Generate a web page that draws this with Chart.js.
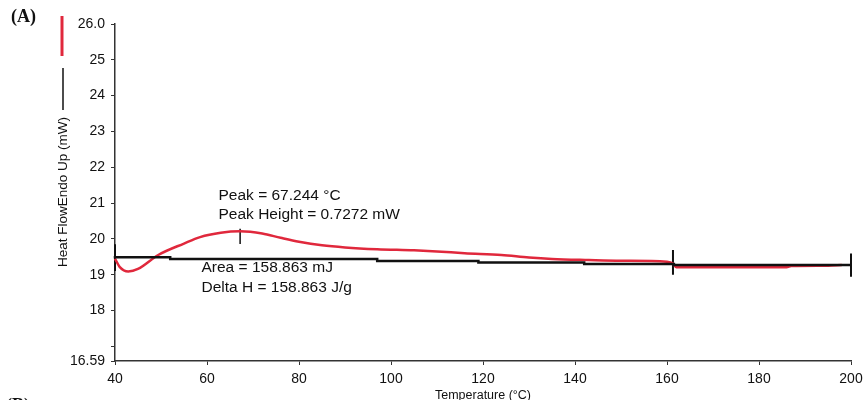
<!DOCTYPE html>
<html>
<head>
  <meta charset="UTF-8">
  <title>DSC curve (A)</title>
  <script src="https://cdn.jsdelivr.net/npm/chart.js"></script>
  <style>
    body { margin: 0; background: #ffffff; }
    .chart-box { position: relative; width: 865px; height: 400px; }
  </style>
</head>
<body>
  <div class="chart-box">
    <canvas id="dscChart"></canvas>
  </div>

  <script>
    // Data
    const redTemp = [40, 41, 42.9, 45, 49.4, 55, 58.5, 63, 67.2, 72, 76, 80, 85, 90, 97, 105, 110, 116, 124, 130, 135, 143, 150, 160, 161.3, 162, 186, 187, 195, 198];
    const redHeat = [19.45, 19.22, 19.09, 19.16, 19.55, 19.87, 20.05, 20.17, 20.21, 20.15, 20.03, 19.92, 19.82, 19.76, 19.71, 19.68, 19.65, 19.6, 19.55, 19.48, 19.44, 19.41, 19.39, 19.36, 19.31, 19.21, 19.21, 19.24, 19.25, 19.27];

    // baseline (drawn as steps like the instrument plot)
    const baseTemp = [40, 52, 97, 119, 142, 161.5, 187, 200];
    const baseHeat = [19.52, 19.49, 19.44, 19.38, 19.34, 19.3, 19.27, 19.27];

    // vertical limit / peak markers: [temp, top, bottom]
    const limitMarks = [[40, 19.85, 19.1], [161.3, 19.69, 19.0], [200, 19.59, 18.94]];
    const peakMark = [67.2, 20.28, 19.86];

    const xTicks = [40, 60, 80, 100, 120, 140, 160, 180, 200];
    const yTicks = [16.59, 17, 18, 19, 20, 21, 22, 23, 24, 25, 26];
    const yTickLabels = ['16.59', '', '18', '19', '20', '21', '22', '23', '24', '25', '26.0'];

    const peakText = ['Peak = 67.244 °C', 'Peak Height = 0.7272 mW'];
    const areaText = ['Area = 158.863 mJ', 'Delta H = 158.863 J/g'];

    const RED = '#e0283c';
    const INK = '#111111';

    function toPoints(xs, ys) {
      return xs.map((x, i) => ({ x: x, y: ys[i] }));
    }

    const markSets = limitMarks.map(m => ({
      data: [{ x: m[0], y: m[1] }, { x: m[0], y: m[2] }],
      borderColor: INK,
      borderWidth: 2,
      pointRadius: 0,
      clip: false
    }));

    // texts, legend strokes and axis titles drawn like the original software
    const extras = {
      id: 'extras',
      afterDraw(chart) {
        const c = chart.ctx;
        const xs = chart.scales.x;
        c.save();

        // legend strokes in the y-title column
        c.lineCap = 'butt';
        c.strokeStyle = RED; c.lineWidth = 3;
        c.beginPath(); c.moveTo(62, 16); c.lineTo(62, 56); c.stroke();
        c.strokeStyle = INK; c.lineWidth = 1.5;
        c.beginPath(); c.moveTo(63, 68); c.lineTo(63, 110); c.stroke();

        // y title
        c.fillStyle = INK;
        c.font = '13.5px "Liberation Sans", Arial, sans-serif';
        c.textAlign = 'center'; c.textBaseline = 'middle';
        c.translate(63, 192); c.rotate(-Math.PI / 2);
        c.fillText('Heat FlowEndo Up (mW)', 0, 0);
        c.rotate(Math.PI / 2); c.translate(-63, -192);

        // x title (cut by the bottom edge)
        c.textBaseline = 'top';
        c.font = '12.5px "Liberation Sans", Arial, sans-serif';
        c.fillText('Temperature (°C)', (xs.left + xs.right) / 2, 389);

        // panel letters
        c.textAlign = 'left';
        c.font = 'bold 18px "Liberation Serif", "Times New Roman", serif';
        c.textBaseline = 'alphabetic';
        c.fillText('(A)', 11, 22);
        c.fillText('(B)', 6, 411);

        // annotations
        c.font = '15.5px "Liberation Sans", Arial, sans-serif';
        c.fillText(peakText[0], xs.getPixelForValue(62.5), 200);
        c.fillText(peakText[1], xs.getPixelForValue(62.5), 219);
        c.fillText(areaText[0], xs.getPixelForValue(58.8), 272);
        c.fillText(areaText[1], xs.getPixelForValue(58.8), 292);
        c.restore();
      }
    };

    new Chart(document.getElementById('dscChart'), {
      type: 'line',
      data: {
        datasets: [
          {
            data: toPoints(baseTemp, baseHeat),
            borderColor: INK,
            borderWidth: 2.5,
            stepped: 'after',
            pointRadius: 0,
            clip: false
          },
          {
            data: toPoints(redTemp, redHeat),
            borderColor: RED,
            borderWidth: 2.5,
            cubicInterpolationMode: 'monotone',
            pointRadius: 0,
            clip: false
          },
          ...markSets,
          {
            data: [{ x: peakMark[0], y: peakMark[1] }, { x: peakMark[0], y: peakMark[2] }],
            borderColor: INK,
            borderWidth: 1.5,
            pointRadius: 0
          }
        ]
      },
      options: {
        responsive: true,
        maintainAspectRatio: false,
        animation: false,
        layout: { padding: { left: 0, right: 14, top: 24, bottom: 0 } },
        plugins: { legend: { display: false }, tooltip: { enabled: false } },
        scales: {
          x: {
            type: 'linear',
            min: 40,
            max: 200,
            afterBuildTicks(scale) { scale.ticks = xTicks.map(v => ({ value: v })); },
            afterFit(scale) {
              scale.height = 39;
              scale.paddingLeft = 0;
              scale.paddingRight = 0;
            },
            grid: { drawOnChartArea: false, drawTicks: true, tickLength: 4, color: '#333' },
            border: { display: true, color: '#333', width: 1.5 },
            ticks: {
              color: INK,
              padding: 6,
              maxRotation: 0,
              font: { family: '"Liberation Sans", Arial, sans-serif', size: 14 }
            }
          },
          y: {
            type: 'linear',
            min: 16.59,
            max: 26,
            afterBuildTicks(scale) { scale.ticks = yTicks.map(v => ({ value: v })); },
            afterFit(scale) {
              scale.width = 115;
              scale.paddingTop = 0;
              scale.paddingBottom = 0;
            },
            grid: { drawOnChartArea: false, drawTicks: true, tickLength: 4, color: '#333' },
            border: { display: true, color: '#333', width: 1.5 },
            ticks: {
              color: INK,
              padding: 6,
              font: { family: '"Liberation Sans", Arial, sans-serif', size: 14 },
              callback: (v) => {
                const i = yTicks.indexOf(v);
                return i >= 0 ? yTickLabels[i] : '';
              }
            }
          }
        }
      },
      plugins: [extras]
    });
  </script>
</body>
</html>
